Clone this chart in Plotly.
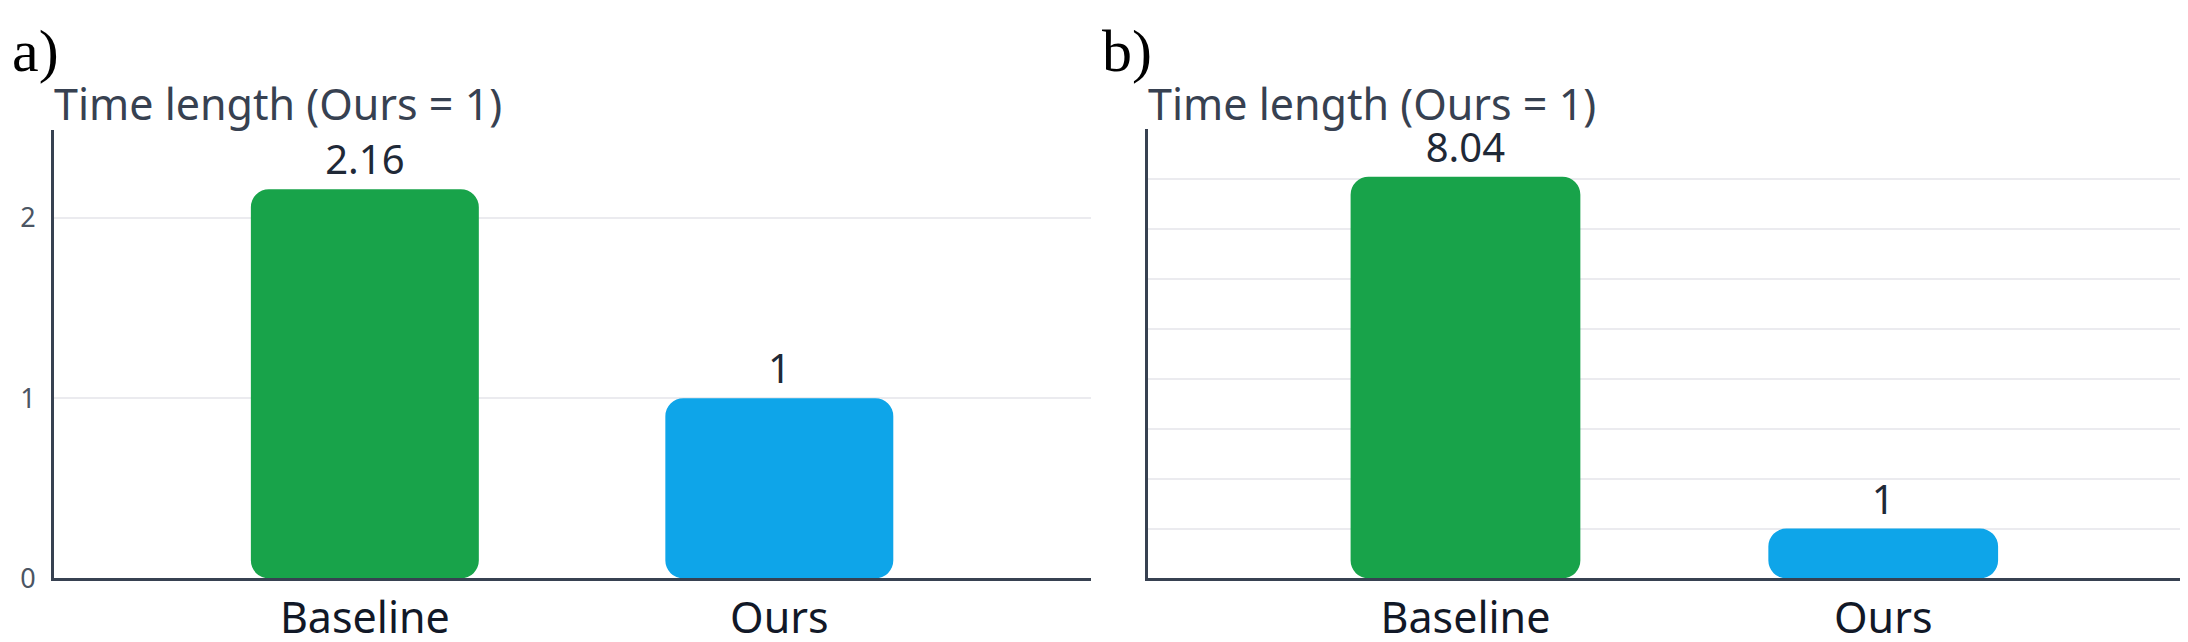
import plotly.graph_objects as go

# data
categories = ["Baseline", "Ours"]
values_a = [2.16, 1]
values_b = [8.04, 1]
bar_colors = ["#18a34a", "#0ea5e9"]
panel_labels = ["a)", "b)"]
y_title = "Time length (Ours = 1)"

FONT = "Segoe UI, Noto Sans, sans-serif"

fig = go.Figure()


def add_bars(fig, values, xaxis, yaxis):
    # explicit base -> plotly rounds both ends of the bar
    fig.add_trace(go.Bar(
        x=categories, y=values, base=[0] * len(values),
        xaxis=xaxis, yaxis=yaxis,
        marker=dict(color=bar_colors, cornerradius=18, line=dict(width=0)),
        text=[str(v) for v in values], textposition="outside",
        textfont=dict(family=FONT, size=40, color="#1f2937"),
        cliponaxis=False, width=0.55, showlegend=False, hoverinfo="skip",
    ))


add_bars(fig, values_a, "x", "y")
add_bars(fig, values_b, "x2", "y2")

axis_common = dict(
    showline=True, linecolor="#374151", linewidth=3,
    showgrid=False, zeroline=False, ticks="",
)

fig.update_layout(
    width=2188, height=642,
    margin=dict(l=0, r=0, t=0, b=0),
    paper_bgcolor="white", plot_bgcolor="white",
    barmode="overlay",
    font=dict(family=FONT),
    xaxis=dict(domain=[46 / 2188, 1083 / 2188], range=[-0.75, 1.752], anchor="y",
               tickfont=dict(size=43, color="#111827"), **axis_common),
    yaxis=dict(domain=[56 / 642, 517 / 642], range=[0, 2.49], dtick=1, anchor="x",
               showline=True, linecolor="#374151", linewidth=3,
               showgrid=True, gridcolor="#ebebef", gridwidth=2, zeroline=False,
               ticks="", ticklabelstandoff=10,
               tickfont=dict(size=27, color="#4b5563")),
    xaxis2=dict(domain=[1140 / 2188, 2176 / 2188], range=[-0.76, 1.72], anchor="y2",
                tickfont=dict(size=43, color="#111827"), **axis_common),
    yaxis2=dict(domain=[56 / 642, 518 / 642], range=[0, 9], dtick=1, anchor="x2",
                showline=True, linecolor="#374151", linewidth=3,
                showgrid=True, gridcolor="#ebebef", gridwidth=2, zeroline=False,
                ticks="", showticklabels=False),
)

# y axis titles, horizontal above each panel
for xpos in [44, 1138]:
    fig.add_annotation(
        text=y_title, xref="paper", yref="paper",
        x=xpos / 2188, y=(642 - 98) / 642, xanchor="left", yanchor="middle",
        showarrow=False, font=dict(family=FONT, size=43, color="#374151"),
    )

# panel letters
for lab, xpos in zip(panel_labels, [2, 1092]):
    fig.add_annotation(
        text=lab, xref="paper", yref="paper",
        x=xpos / 2188, y=(642 - 44) / 642, xanchor="left", yanchor="middle",
        showarrow=False,
        font=dict(family="Times New Roman, Liberation Serif, serif", size=60, color="black"),
    )

fig.write_html("out.html")
